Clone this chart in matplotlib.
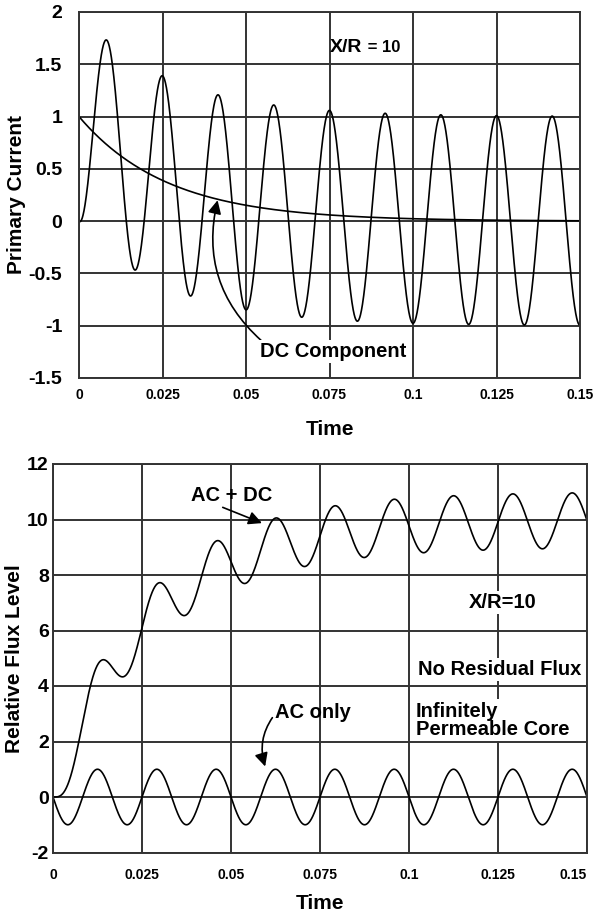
import numpy as np
import matplotlib
matplotlib.use("Agg")
import matplotlib.pyplot as plt

plt.rcParams["font.family"] = ["Liberation Sans", "DejaVu Sans"]
plt.rcParams["font.weight"] = "bold"

# values
x_over_r = 10          # printed on both panels
freq_hz = 60           # 9 cycles in 0.15 s
t_end = 0.15

time_ticks = [0, 0.025, 0.05, 0.075, 0.1, 0.125, 0.15]
time_labels = ["0", "0.025", "0.05", "0.075", "0.1", "0.125", "0.15"]
current_ticks = [-1.5, -1, -0.5, 0, 0.5, 1, 1.5, 2]
current_labels = ["-1.5", "-1", "-0.5", "0", "0.5", "1", "1.5", "2"]
flux_ticks = [-2, 0, 2, 4, 6, 8, 10, 12]
flux_labels = ["-2", "0", "2", "4", "6", "8", "10", "12"]

# offset fault current and the flux it drives
t = np.linspace(0, t_end, 2000)
w = 2 * np.pi * freq_hz
tau = x_over_r / w
dc = np.exp(-t / tau)
current = dc - np.cos(w * t)
flux_ac = -np.sin(w * t)
flux_total = x_over_r * (1 - dc) + flux_ac

grid_col = "#333333"
W, H = 594, 915
fig = plt.figure(figsize=(W / 100, H / 100), dpi=100)

ax1 = fig.add_axes([79 / W, 1 - 378 / H, (580 - 79) / W, (378 - 12) / H])
ax2 = fig.add_axes([53 / W, 1 - 852.5 / H, (587 - 53) / W, (852.5 - 464) / H])

for ax in (ax1, ax2):
    ax.set_xlim(0, t_end)
    ax.set_xticks(time_ticks)
    ax.set_xticklabels(time_labels, fontsize=10, fontweight="bold")
    ax.grid(True, color=grid_col, lw=1.4)
    ax.set_axisbelow(True)
    for s in ax.spines.values():
        s.set_color(grid_col)
        s.set_linewidth(1.4)
    ax.tick_params(length=0)
    ax.set_xlabel("Time", fontsize=15, fontweight="bold")

arrow = dict(arrowstyle="-|>", color="black", lw=1.2,
             shrinkA=0, shrinkB=0, mutation_scale=20)

# top panel
ax1.plot(t, current, color="black", lw=1.2)
ax1.plot(t, dc, color="black", lw=1.2)
ax1.set_ylim(-1.5, 2)
ax1.set_yticks(current_ticks)
ax1.set_yticklabels(current_labels, fontsize=14, fontweight="bold")
ax1.tick_params(axis="x", pad=7)
ax1.tick_params(axis="y", pad=12)
ax1.set_ylabel("Primary Current", fontsize=15, fontweight="bold", labelpad=2)
ax1.xaxis.labelpad = 13

xr = ax1.text(0.0752, 1.66, "X/R", fontsize=14, fontweight="bold", va="center")
ax1.annotate(" = 10", xy=(1, 0.08), xycoords=xr, va="bottom", fontsize=12, fontweight="bold")

ax1.annotate("DC Component", xy=(0.0415, 0.2), xytext=(0.0762, -1.25),
             fontsize=14.5, fontweight="bold", ha="center", va="center",
             bbox=dict(boxstyle="square,pad=0.1", fc="white", ec="none"),
             arrowprops=dict(arrow, connectionstyle="arc3,rad=-0.3",
                             relpos=(0.02, 1.0)))

# bottom panel
ax2.plot(t, flux_total, color="black", lw=1.2)
ax2.plot(t, flux_ac, color="black", lw=1.2)
ax2.set_ylim(-2, 12)
ax2.set_yticks(flux_ticks)
ax2.set_yticklabels(flux_labels, fontsize=14, fontweight="bold")
ax2.tick_params(axis="x", pad=11)
ax2.tick_params(axis="y", pad=3)
ax2.get_xticklabels()[-1].set_horizontalalignment("right")
ax2.set_ylabel("Relative Flux Level", fontsize=15, fontweight="bold", labelpad=2)
ax2.xaxis.labelpad = 9

ax2.annotate("AC + DC", xy=(0.0587, 9.87), xytext=(0.0503, 10.88),
             fontsize=14.5, fontweight="bold", ha="center", va="center",
             arrowprops=dict(arrow, relpos=(0.3, 0.0)))
ax2.annotate("AC only", xy=(0.0596, 1.1), xytext=(0.0624, 3.06),
             fontsize=14.5, fontweight="bold", ha="left", va="center",
             arrowprops=dict(arrow, connectionstyle="arc3,rad=0.25",
                             relpos=(-0.02, 0.3)))

box = dict(boxstyle="square,pad=0.1", fc="white", ec="none")
ax2.text(0.1264, 7.0, "X/R=10", fontsize=14.5, fontweight="bold",
         ha="center", va="center", bbox=box)
ax2.text(0.1025, 4.6, "No Residual Flux", fontsize=14.5, fontweight="bold",
         ha="left", va="center", bbox=box)
ax2.text(0.102, 2.77, "Infinitely\nPermeable Core", fontsize=14.5, fontweight="bold",
         ha="left", va="center", linespacing=0.95, bbox=box)

fig.savefig("out.png", dpi=100)
